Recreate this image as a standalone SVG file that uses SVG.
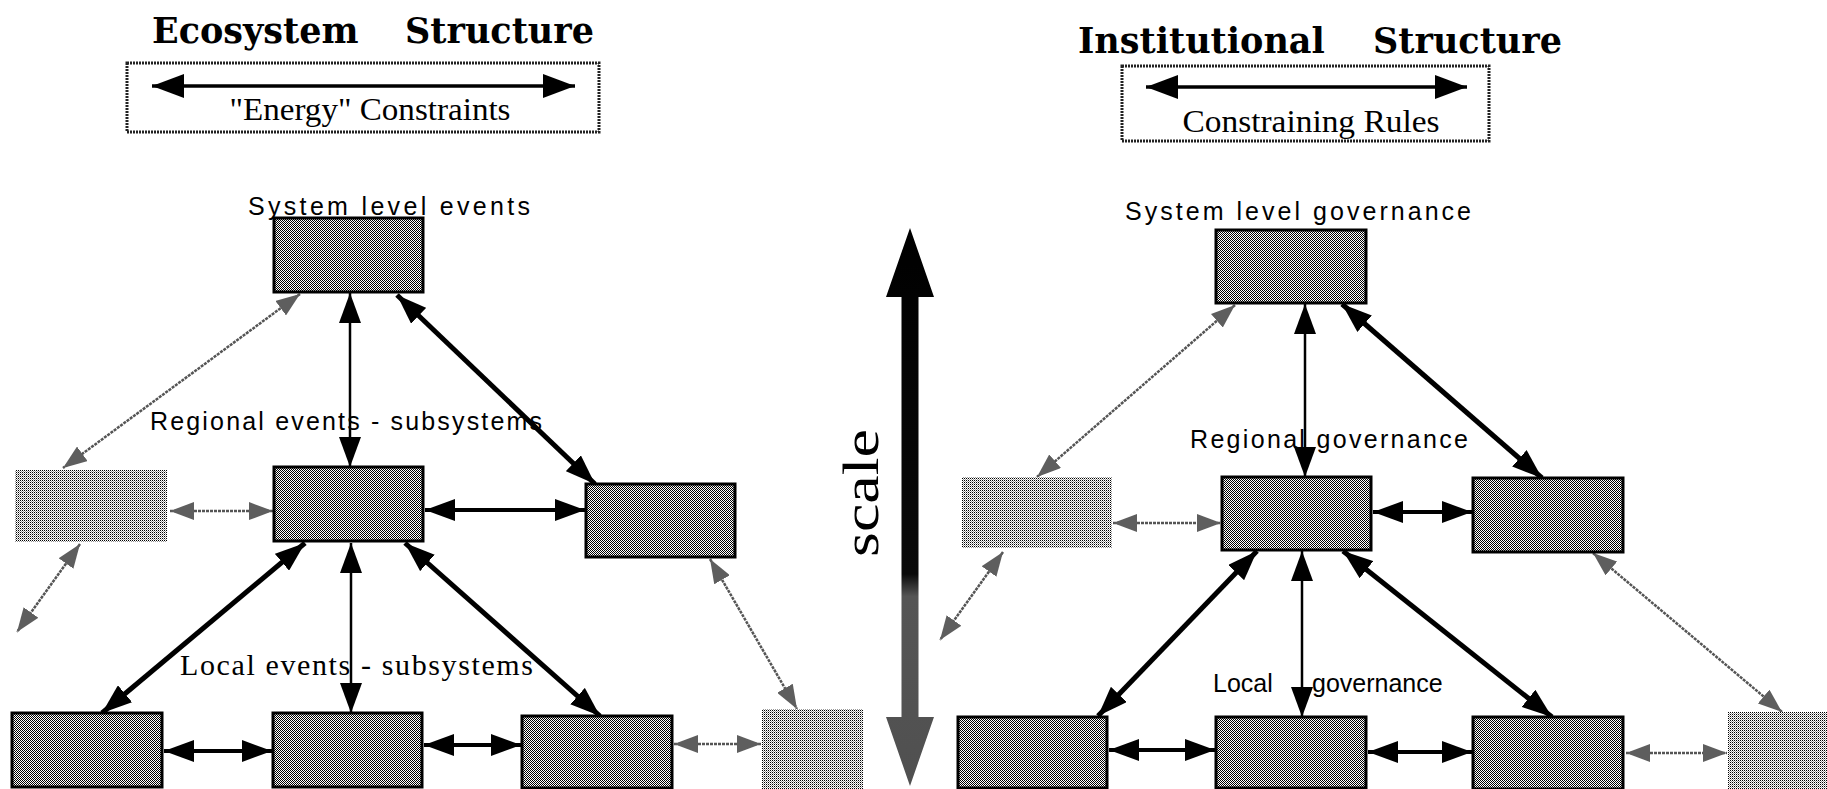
<svg xmlns="http://www.w3.org/2000/svg" width="1827" height="789" viewBox="0 0 1827 789">
  <defs>
    <pattern id="dk" width="2" height="2" patternUnits="userSpaceOnUse">
      <rect width="2" height="2" fill="#ffffff"/>
      <rect width="1" height="1" fill="#000000"/>
      <rect x="1" y="1" width="1" height="1" fill="#000000"/>
    </pattern>
    <pattern id="lt" width="2" height="2" patternUnits="userSpaceOnUse">
      <rect width="2" height="2" fill="#ffffff"/>
      <rect width="1" height="1" fill="#000000"/>
      <rect x="1" y="1" width="1" height="1" fill="#9a9a9a"/>
    </pattern>
    <linearGradient id="scaleGrad" gradientUnits="userSpaceOnUse" x1="0" y1="228" x2="0" y2="786">
      <stop offset="0" stop-color="#000000"/>
      <stop offset="0.62" stop-color="#0a0a0a"/>
      <stop offset="0.66" stop-color="#555555"/>
      <stop offset="1" stop-color="#505050"/>
    </linearGradient>
    <marker id="hb" viewBox="0 0 30 22" refX="30" refY="11" markerWidth="30" markerHeight="22" markerUnits="userSpaceOnUse" orient="auto-start-reverse">
      <path d="M0,0 L30,11 L0,22 Z" fill="#000000"/>
    </marker>
    <marker id="hg" viewBox="0 0 24 18" refX="24" refY="9" markerWidth="24" markerHeight="18" markerUnits="userSpaceOnUse" orient="auto-start-reverse">
      <path d="M0,0 L24,9 L0,18 Z" fill="#5e5e5e"/>
    </marker>
    <marker id="hh" viewBox="0 0 32 24" refX="32" refY="12" markerWidth="32" markerHeight="24" markerUnits="userSpaceOnUse" orient="auto-start-reverse">
      <path d="M0,0 L32,12 L0,24 Z" fill="#000000"/>
    </marker>
  </defs>
  <style>
    .title { font-family: "DejaVu Serif", "Liberation Serif", serif; font-weight: bold; font-size: 35px; fill: #000; }
    .hbox { fill: #ffffff; stroke: #222; stroke-width: 3; stroke-dasharray: 2 1; }
    .htext { font-family: "Liberation Serif", serif; font-size: 31px; fill: #000; text-anchor: middle; }
    .lbl { font-family: "Liberation Sans", Arial, sans-serif; font-size: 25px; fill: #000; }
    .lbls { font-family: "Liberation Serif", serif; font-size: 30px; fill: #000; }
    .dark { fill: url(#dk); stroke: #000; stroke-width: 3; }
    .light { fill: url(#lt); stroke: none; }
    .cb { stroke: #000; stroke-width: 4; fill: none; marker-start: url(#hb); marker-end: url(#hb); }
    .cth { stroke: #000; stroke-width: 2.5; fill: none; marker-start: url(#hb); marker-end: url(#hb); }
    .ck { stroke: #000; stroke-width: 5; fill: none; marker-start: url(#hb); marker-end: url(#hb); }
    .cg { stroke: #555; stroke-width: 2.5; stroke-dasharray: 3 1; fill: none; marker-start: url(#hg); marker-end: url(#hg); }
    .harrow { stroke: #000; stroke-width: 3.5; fill: none; marker-start: url(#hh); marker-end: url(#hh); }
    .scaletxt { font-family: "Liberation Serif", serif; font-size: 50px; fill: #000; text-anchor: middle; }
  </style>

  <g id="header-left">
    <text class="title" y="43"><tspan x="152">Ecosystem</tspan><tspan x="405">Structure</tspan></text>
    <rect class="hbox" x="127" y="63" width="472" height="69"/>
    <line class="harrow" x1="152" y1="86" x2="575" y2="86"/>
    <text class="htext" x="370" y="120" textLength="281" lengthAdjust="spacingAndGlyphs">"Energy" Constraints</text>
  </g>

  <g id="header-right">
    <text class="title" y="53"><tspan x="1078">Institutional</tspan><tspan x="1373">Structure</tspan></text>
    <rect class="hbox" x="1122" y="66" width="367" height="75"/>
    <line class="harrow" x1="1146" y1="87" x2="1467" y2="87"/>
    <text class="htext" x="1311" y="132" textLength="257" lengthAdjust="spacingAndGlyphs">Constraining Rules</text>
  </g>

  <g id="scale-axis">
    <path d="M910,228 L934,297 L918.5,297 L918.5,717 L934,717 L910,786 L886,717 L901.5,717 L901.5,297 L886,297 Z" fill="url(#scaleGrad)"/>
    <text class="scaletxt" transform="translate(878,493) rotate(-90)" textLength="128" lengthAdjust="spacingAndGlyphs">scale</text>
  </g>

  <g id="connectors">
    <!-- left diagram -->
    <line class="cth" x1="350" y1="293" x2="350" y2="467"/>
    <line class="cg" x1="300" y1="294" x2="63" y2="468"/>
    <line class="ck" x1="397" y1="295" x2="595" y2="484"/>
    <line class="cg" x1="170" y1="511" x2="273" y2="511"/>
    <line class="cb" x1="425" y1="510" x2="585" y2="510"/>
    <line class="cg" x1="80" y1="544" x2="17" y2="632"/>
    <line class="ck" x1="305" y1="543" x2="102" y2="713"/>
    <line class="cth" x1="351" y1="543" x2="351" y2="713"/>
    <line class="ck" x1="405" y1="543" x2="600" y2="716"/>
    <line class="cg" x1="710" y1="559" x2="797" y2="709"/>
    <line class="cb" x1="164" y1="751" x2="272" y2="751"/>
    <line class="cb" x1="424" y1="745" x2="521" y2="745"/>
    <line class="cg" x1="674" y1="744" x2="761" y2="744"/>
    <!-- right diagram -->
    <line class="cth" x1="1305" y1="304" x2="1305" y2="477"/>
    <line class="cg" x1="1235" y1="305" x2="1037" y2="477"/>
    <line class="ck" x1="1342" y1="304" x2="1542" y2="478"/>
    <line class="cg" x1="1113" y1="523" x2="1221" y2="523"/>
    <line class="cb" x1="1373" y1="512" x2="1472" y2="512"/>
    <line class="cg" x1="1003" y1="552" x2="940" y2="640"/>
    <line class="ck" x1="1257" y1="551" x2="1098" y2="716"/>
    <line class="cth" x1="1302" y1="551" x2="1302" y2="717"/>
    <line class="ck" x1="1343" y1="551" x2="1552" y2="717"/>
    <line class="cg" x1="1593" y1="553" x2="1782" y2="712"/>
    <line class="cb" x1="1109" y1="750" x2="1215" y2="750"/>
    <line class="cb" x1="1368" y1="752" x2="1472" y2="752"/>
    <line class="cg" x1="1626" y1="753" x2="1727" y2="753"/>
  </g>

  <!-- left diagram nodes -->
  <g id="eco-system">
    <rect class="dark" x="274" y="218" width="149" height="74"/>
    <text class="lbl" x="248" y="215" textLength="282" lengthAdjust="spacing">System level events</text>
  </g>
  <g id="eco-regional">
    <rect class="dark" x="274" y="467" width="149" height="74"/>
    <text class="lbl" x="150" y="430" textLength="392" lengthAdjust="spacing">Regional events - subsystems</text>
  </g>
  <g id="eco-regional-left">
    <rect class="light" x="15" y="470" width="152" height="72"/>
  </g>
  <g id="eco-regional-right">
    <rect class="dark" x="586" y="484" width="149" height="73"/>
  </g>
  <g id="eco-local-1">
    <rect class="dark" x="12" y="713" width="150" height="74"/>
    <text class="lbls" x="180" y="675" textLength="353" lengthAdjust="spacing">Local  events - subsystems</text>
  </g>
  <g id="eco-local-2">
    <rect class="dark" x="273" y="713" width="149" height="74"/>
  </g>
  <g id="eco-local-3">
    <rect class="dark" x="522" y="716" width="150" height="72"/>
  </g>
  <g id="eco-local-4">
    <rect class="light" x="762" y="709" width="101" height="80"/>
  </g>

  <!-- right diagram nodes -->
  <g id="inst-system">
    <rect class="dark" x="1216" y="230" width="150" height="73"/>
    <text class="lbl" x="1125" y="220" textLength="346" lengthAdjust="spacing">System level governance</text>
  </g>
  <g id="inst-regional">
    <rect class="dark" x="1222" y="477" width="149" height="73"/>
    <text class="lbl" x="1190" y="448" textLength="278" lengthAdjust="spacing">Regional governance</text>
  </g>
  <g id="inst-regional-left">
    <rect class="light" x="962" y="477" width="150" height="71"/>
  </g>
  <g id="inst-regional-right">
    <rect class="dark" x="1473" y="478" width="150" height="74"/>
  </g>
  <g id="inst-local-1">
    <rect class="dark" x="958" y="717" width="149" height="71"/>
    <text class="lbl" y="692"><tspan x="1213">Local</tspan><tspan x="1312">governance</tspan></text>
  </g>
  <g id="inst-local-2">
    <rect class="dark" x="1216" y="717" width="150" height="71"/>
  </g>
  <g id="inst-local-3">
    <rect class="dark" x="1473" y="717" width="150" height="72"/>
  </g>
  <g id="inst-local-4">
    <rect class="light" x="1728" y="712" width="110" height="77"/>
  </g>
</svg>
